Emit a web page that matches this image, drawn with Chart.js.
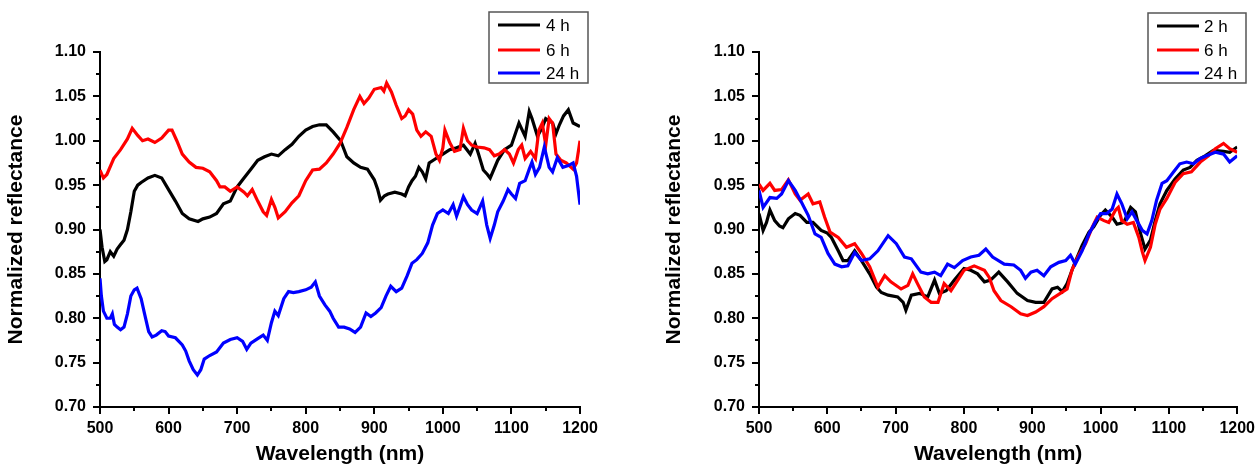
<!DOCTYPE html>
<html>
<head>
<meta charset="utf-8">
<title>Normalized reflectance</title>
<script src="https://cdn.jsdelivr.net/npm/chart.js@4.4.1/dist/chart.umd.min.js"></script>
<style>
    html, body { margin: 0; padding: 0; background: #fff; }
    #wrap { position: relative; width: 1260px; height: 471px; }
    .panel { position: absolute; top: 0; width: 630px; height: 471px; }
</style>
</head>
<body>
<div id="wrap">
    <div class="panel" style="left:0"><canvas id="chartLeft" width="630" height="471"></canvas></div>
    <div class="panel" style="left:630px"><canvas id="chartRight" width="630" height="471"></canvas></div>
</div>
<script>
// ============================================================================
// DATA  ([wavelength nm, normalized reflectance])
// ============================================================================
const xTicks = [500, 600, 700, 800, 900, 1000, 1100, 1200];
const yTicks = [0.70, 0.75, 0.80, 0.85, 0.90, 0.95, 1.00, 1.05, 1.10];

// left panel
const leftLabels = ['4 h', '6 h', '24 h'];
const left4h = [[500,0.900],[503,0.880],[507,0.864],[510,0.866],[515,0.875],[520,0.870],[525,0.878],[530,0.883],[535,0.888],[540,0.900],[545,0.920],[550,0.943],[555,0.950],[560,0.953],[570,0.958],[580,0.961],[590,0.958],[600,0.945],[610,0.932],[620,0.918],[630,0.912],[643,0.909],[650,0.912],[660,0.914],[670,0.918],[680,0.929],[690,0.932],[700,0.948],[710,0.958],[720,0.968],[730,0.978],[740,0.982],[750,0.985],[760,0.983],[770,0.990],[780,0.996],[790,1.005],[800,1.012],[810,1.016],[820,1.018],[830,1.018],[840,1.010],[851,1.000],[860,0.982],[870,0.975],[880,0.970],[890,0.968],[900,0.956],[905,0.945],[909,0.933],[915,0.938],[920,0.940],[930,0.942],[940,0.940],[945,0.938],[950,0.948],[955,0.955],[960,0.960],[965,0.970],[970,0.965],[975,0.957],[980,0.975],[990,0.980],[1000,0.985],[1010,0.990],[1020,0.992],[1030,0.995],[1040,0.985],[1047,0.997],[1052,0.985],[1059,0.967],[1065,0.962],[1069,0.958],[1080,0.978],[1090,0.990],[1100,0.995],[1111,1.020],[1120,1.005],[1126,1.033],[1130,1.025],[1138,1.005],[1145,1.015],[1150,1.025],[1160,1.020],[1165,1.008],[1170,1.018],[1176,1.028],[1183,1.035],[1190,1.020],[1200,1.016]];
const left6h = [[500,0.967],[505,0.958],[510,0.962],[520,0.980],[530,0.990],[540,1.002],[547,1.014],[555,1.006],[562,1.000],[570,1.002],[580,0.998],[590,1.003],[600,1.012],[605,1.012],[612,1.000],[620,0.985],[630,0.976],[640,0.970],[650,0.969],[660,0.965],[670,0.955],[675,0.948],[682,0.948],[690,0.943],[700,0.948],[710,0.942],[715,0.938],[722,0.945],[730,0.932],[738,0.920],[743,0.916],[750,0.934],[755,0.925],[760,0.913],[770,0.920],[780,0.930],[790,0.938],[800,0.955],[810,0.967],[820,0.968],[830,0.975],[840,0.985],[850,0.997],[860,1.015],[870,1.035],[879,1.050],[885,1.042],[892,1.048],[900,1.058],[910,1.060],[914,1.056],[918,1.065],[925,1.055],[932,1.040],[940,1.025],[945,1.028],[950,1.035],[956,1.030],[962,1.012],[968,1.005],[975,1.010],[983,1.005],[990,0.985],[995,0.978],[1000,0.992],[1003,1.012],[1010,0.998],[1017,0.988],[1025,0.990],[1030,1.014],[1036,1.000],[1042,0.995],[1050,0.993],[1060,0.992],[1068,0.990],[1075,0.983],[1082,0.985],[1090,0.990],[1097,0.985],[1103,0.975],[1110,0.990],[1115,0.995],[1120,0.980],[1128,0.988],[1135,0.980],[1140,1.012],[1145,1.020],[1150,0.995],[1155,1.025],[1160,1.020],[1165,0.985],[1172,0.978],[1180,0.975],[1190,0.968],[1195,0.975],[1200,1.000]];
const left24h = [[500,0.845],[502,0.825],[505,0.808],[510,0.800],[515,0.800],[518,0.805],[521,0.793],[525,0.790],[530,0.787],[535,0.790],[540,0.805],[545,0.825],[550,0.832],[554,0.834],[560,0.822],[565,0.805],[571,0.785],[576,0.779],[582,0.781],[590,0.786],[595,0.785],[600,0.780],[610,0.778],[620,0.770],[625,0.763],[630,0.752],[636,0.742],[642,0.736],[647,0.742],[652,0.754],[660,0.758],[670,0.762],[680,0.772],[690,0.776],[700,0.778],[708,0.774],[714,0.765],[720,0.772],[730,0.777],[738,0.781],[744,0.775],[750,0.795],[755,0.808],[760,0.803],[768,0.822],[775,0.830],[782,0.829],[790,0.830],[800,0.832],[808,0.835],[814,0.841],[820,0.825],[828,0.815],[835,0.808],[840,0.800],[848,0.790],[856,0.790],[864,0.788],[872,0.784],[880,0.790],[888,0.806],[895,0.802],[902,0.806],[910,0.812],[917,0.825],[924,0.836],[932,0.830],[940,0.834],[948,0.848],[955,0.862],[962,0.866],[970,0.873],[978,0.885],[985,0.905],[992,0.918],[1000,0.922],[1008,0.918],[1015,0.928],[1020,0.915],[1026,0.928],[1030,0.937],[1036,0.928],[1042,0.922],[1050,0.918],[1058,0.932],[1064,0.905],[1069,0.890],[1075,0.905],[1080,0.920],[1088,0.932],[1095,0.945],[1100,0.940],[1106,0.935],[1112,0.952],[1120,0.955],[1126,0.968],[1130,0.976],[1135,0.962],[1141,0.970],[1148,0.993],[1155,0.970],[1160,0.965],[1167,0.981],[1175,0.970],[1183,0.972],[1190,0.975],[1195,0.960],[1200,0.928]];

// right panel
const rightLabels = ['2 h', '6 h', '24 h'];
const right2h = [[500,0.918],[506,0.899],[511,0.908],[516,0.922],[523,0.910],[530,0.904],[535,0.902],[543,0.912],[553,0.918],[560,0.916],[570,0.908],[579,0.908],[591,0.899],[600,0.896],[606,0.891],[616,0.876],[623,0.865],[630,0.865],[640,0.876],[650,0.865],[662,0.850],[672,0.835],[679,0.829],[689,0.826],[703,0.824],[711,0.818],[715,0.809],[723,0.826],[735,0.828],[747,0.824],[757,0.843],[764,0.828],[774,0.831],[786,0.843],[800,0.856],[810,0.854],[820,0.850],[830,0.841],[839,0.843],[851,0.852],[864,0.841],[878,0.828],[893,0.820],[905,0.818],[917,0.818],[929,0.833],[937,0.835],[944,0.830],[951,0.839],[961,0.860],[973,0.882],[983,0.897],[990,0.903],[1000,0.916],[1007,0.922],[1017,0.914],[1024,0.906],[1034,0.908],[1044,0.925],[1051,0.920],[1058,0.897],[1065,0.878],[1073,0.888],[1080,0.910],[1087,0.929],[1097,0.944],[1109,0.957],[1121,0.967],[1131,0.970],[1141,0.978],[1153,0.983],[1165,0.989],[1180,0.988],[1189,0.987],[1200,0.993]];
const right6h = [[500,0.951],[506,0.944],[516,0.952],[523,0.944],[533,0.945],[543,0.956],[553,0.940],[560,0.933],[572,0.940],[579,0.929],[589,0.931],[596,0.914],[604,0.897],[616,0.891],[628,0.880],[640,0.884],[650,0.873],[662,0.858],[674,0.835],[684,0.848],[693,0.841],[708,0.833],[718,0.837],[725,0.850],[732,0.839],[742,0.824],[752,0.818],[762,0.818],[771,0.839],[781,0.831],[791,0.843],[800,0.854],[815,0.859],[830,0.854],[837,0.846],[844,0.831],[854,0.820],[869,0.813],[883,0.805],[893,0.803],[905,0.807],[917,0.813],[929,0.822],[941,0.828],[951,0.833],[958,0.854],[968,0.871],[978,0.884],[988,0.903],[995,0.914],[1005,0.910],[1012,0.908],[1022,0.922],[1026,0.925],[1031,0.910],[1039,0.906],[1048,0.908],[1056,0.891],[1061,0.875],[1065,0.865],[1073,0.880],[1080,0.906],[1087,0.923],[1097,0.935],[1109,0.953],[1121,0.963],[1133,0.965],[1146,0.976],[1158,0.983],[1168,0.991],[1180,0.997],[1189,0.991],[1200,0.987]];
const right24h = [[500,0.944],[506,0.925],[516,0.936],[526,0.935],[533,0.940],[543,0.955],[553,0.944],[562,0.931],[572,0.916],[582,0.895],[591,0.891],[601,0.873],[611,0.861],[621,0.858],[630,0.859],[640,0.874],[650,0.865],[662,0.867],[674,0.876],[689,0.893],[701,0.884],[713,0.869],[723,0.867],[737,0.852],[747,0.850],[757,0.852],[766,0.848],[776,0.861],[786,0.857],[798,0.865],[810,0.869],[822,0.871],[832,0.878],[842,0.869],[859,0.861],[873,0.860],[883,0.854],[890,0.845],[898,0.852],[907,0.854],[917,0.848],[927,0.858],[939,0.863],[949,0.865],[956,0.871],[963,0.861],[973,0.876],[983,0.895],[992,0.908],[1000,0.918],[1009,0.918],[1017,0.923],[1024,0.940],[1031,0.929],[1039,0.912],[1046,0.920],[1053,0.910],[1061,0.899],[1068,0.895],[1075,0.910],[1082,0.933],[1090,0.952],[1097,0.955],[1107,0.965],[1116,0.974],[1126,0.976],[1136,0.974],[1146,0.980],[1155,0.983],[1168,0.987],[1180,0.985],[1189,0.976],[1200,0.983]];

const seriesColors = ['#000000', '#ff0000', '#0000ff'];

// ============================================================================
// PLUGINS
// ============================================================================
const FONT = 'Arial, "Liberation Sans", sans-serif';

// minor ticks halfway between the major ones, shorter, pointing outward
const minorTicks = {
    id: 'minorTicks',
    afterDraw(chart) {
        const ctx = chart.ctx;
        const { x, y } = chart.scales;
        ctx.save();
        ctx.strokeStyle = '#000';
        ctx.lineWidth = 2;
        for (let i = 0; i < xTicks.length - 1; i++) {
            const px = Math.round(x.getPixelForValue((xTicks[i] + xTicks[i + 1]) / 2));
            ctx.beginPath();
            ctx.moveTo(px, y.bottom);
            ctx.lineTo(px, y.bottom + 4);
            ctx.stroke();
        }
        for (let i = 0; i < yTicks.length - 1; i++) {
            const py = Math.round(y.getPixelForValue((yTicks[i] + yTicks[i + 1]) / 2));
            ctx.beginPath();
            ctx.moveTo(x.left, py);
            ctx.lineTo(x.left - 4, py);
            ctx.stroke();
        }
        ctx.restore();
    }
};

// framed legend like the Origin one
const boxLegend = {
    id: 'boxLegend',
    afterDraw(chart, args, opts) {
        const ctx = chart.ctx;
        ctx.save();
        ctx.strokeStyle = '#555';
        ctx.lineWidth = 1.5;
        ctx.strokeRect(opts.left, opts.top, opts.width, opts.height);
        chart.data.datasets.forEach((ds, i) => {
            const yy = opts.rows[i];
            ctx.strokeStyle = ds.borderColor;
            ctx.lineWidth = 3;
            ctx.beginPath();
            ctx.moveTo(opts.lineStart, yy);
            ctx.lineTo(opts.lineEnd, yy);
            ctx.stroke();
            ctx.fillStyle = '#000';
            ctx.font = '17px ' + FONT;
            ctx.textBaseline = 'middle';
            ctx.textAlign = 'left';
            ctx.fillText(ds.label, opts.textX, yy + 1);
        });
        ctx.restore();
    }
};

// ============================================================================
// CHARTS
// ============================================================================
function makeDatasets(labels, series) {
    return series.map((pts, i) => ({
        label: labels[i],
        data: pts.map(p => ({ x: p[0], y: p[1] })),
        borderColor: seriesColors[i],
        backgroundColor: seriesColors[i],
        borderWidth: 3.2,
        pointRadius: 0,
        tension: 0,
        order: 3 - i
    }));
}

function makeOptions(pad, yWidth, legendBox) {
    const tickFont = { family: FONT, size: 16, weight: 'bold' };
    const titleFont = { family: FONT, size: 21, weight: 'bold' };
    return {
        responsive: false,
        animation: false,
        devicePixelRatio: 1,
        layout: { padding: pad },
        plugins: {
            legend: { display: false },
            tooltip: { enabled: false },
            boxLegend: legendBox
        },
        scales: {
            x: {
                type: 'linear',
                min: 500,
                max: 1200,
                afterBuildTicks: s => { s.ticks = xTicks.map(v => ({ value: v })); },
                ticks: { color: '#000', font: tickFont, padding: 5, maxRotation: 0, autoSkip: false, callback: v => String(v) },
                grid: { drawOnChartArea: false, drawTicks: true, tickLength: 7, lineWidth: 2, tickWidth: 2, color: '#000' },
                border: { display: true, color: '#000', width: 2 },
                title: { display: true, text: 'Wavelength (nm)', color: '#000', font: titleFont, padding: { top: 0, bottom: 4 } },
                afterFit: s => { s.height = 64; }
            },
            y: {
                type: 'linear',
                min: 0.70,
                max: 1.10,
                afterBuildTicks: s => { s.ticks = yTicks.map(v => ({ value: v })); },
                ticks: { color: '#000', font: tickFont, padding: 7, callback: v => Number(v).toFixed(2) },
                grid: { drawOnChartArea: false, drawTicks: true, tickLength: 7, lineWidth: 2, tickWidth: 2, color: '#000' },
                border: { display: true, color: '#000', width: 2 },
                title: { display: true, text: 'Normalized reflectance', color: '#000', font: titleFont, padding: { top: 4, bottom: 4 } },
                afterFit: s => { s.width = yWidth; }
            }
        }
    };
}

new Chart(document.getElementById('chartLeft'), {
    type: 'line',
    data: { datasets: makeDatasets(leftLabels, [left4h, left6h, left24h]) },
    options: makeOptions({ left: 0, right: 50, top: 52, bottom: 0 }, 100,
        { left: 489, top: 12, width: 99, height: 71, lineStart: 498, lineEnd: 540, textX: 546, rows: [25, 50, 73] }),
    plugins: [minorTicks, boxLegend]
});

new Chart(document.getElementById('chartRight'), {
    type: 'line',
    data: { datasets: makeDatasets(rightLabels, [right2h, right6h, right24h]) },
    options: makeOptions({ left: 28, right: 21, top: 52, bottom: 0 }, 101,
        { left: 518, top: 13, width: 98, height: 70, lineStart: 527, lineEnd: 569, textX: 574, rows: [26, 50, 73] }),
    plugins: [minorTicks, boxLegend]
});
</script>
</body>
</html>
